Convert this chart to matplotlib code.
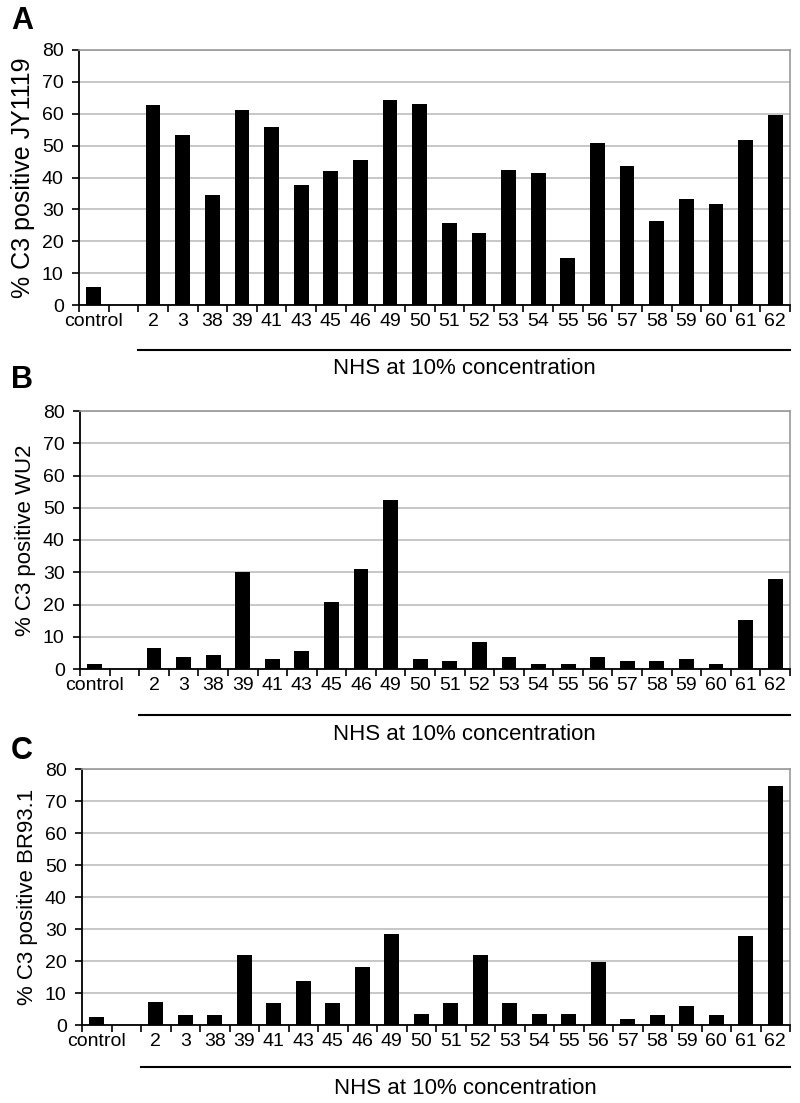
import numpy as np
import matplotlib
matplotlib.use('Agg')
import matplotlib.pyplot as plt
import matplotlib.transforms as mtransforms

plt.rcParams['font.family'] = ['Liberation Sans', 'DejaVu Sans']

nan = np.nan

# x categories: control, one empty slot, then the serum numbers
categories = ['control', '', '2', '3', '38', '39', '41', '43', '45', '46', '49', '50',
              '51', '52', '53', '54', '55', '56', '57', '58', '59', '60', '61', '62']

jy1119 = [5.6, nan, 62.6, 53.3, 34.5, 61.2, 55.8, 37.8, 41.9, 45.4, 64.3, 63.2,
          25.7, 22.5, 42.5, 41.4, 14.9, 50.8, 43.7, 26.3, 33.4, 31.8, 51.9, 59.5]
wu2 = [1.6, nan, 6.4, 3.7, 4.4, 30.2, 3.1, 5.7, 20.8, 30.9, 52.4, 3.1,
       2.4, 8.4, 3.7, 1.6, 1.6, 3.7, 2.4, 2.4, 3.1, 1.6, 15.3, 28.0]
br931 = [2.4, nan, 7.2, 3.0, 3.0, 21.9, 6.8, 13.9, 6.8, 18.0, 28.5, 3.3,
         6.8, 21.9, 6.8, 3.3, 3.3, 19.8, 1.9, 3.0, 6.0, 3.0, 27.8, 74.6]

panel_letters = ['A', 'B', 'C']
ylabels = ['% C3 positive JY1119', '% C3 positive WU2', '% C3 positive BR93.1']
group_label = 'NHS at 10% concentration'

W, H = 800, 1103
fig = plt.figure(figsize=(W / 100, H / 100), dpi=100)

# pixel layout: left, top, bottom of plot area, underline / label offsets, letter y
layout = [
    dict(left=79, top=50, bottom=305, line=45, text=64, letter=21, ylsize=18),
    dict(left=80, top=411, bottom=669, line=46, text=65, letter=380, ylsize=16),
    dict(left=82, top=769, bottom=1025, line=42, text=63, letter=751, ylsize=16),
]
right = 790

x = np.arange(len(categories))

for vals, lab, letter, lay in zip([jy1119, wu2, br931], ylabels, panel_letters, layout):
    ax = fig.add_axes([lay['left'] / W, 1 - lay['bottom'] / H,
                       (right - lay['left']) / W, (lay['bottom'] - lay['top']) / H])
    ax.bar(x, vals, width=0.5, color='black', zorder=3)

    ax.set_xlim(-0.5, len(categories) - 0.5)
    ax.set_ylim(0, 80)
    ax.set_yticks(range(0, 81, 10))
    ax.yaxis.grid(True, color='#bdbdbd', linewidth=1.2, zorder=0)

    # labels at bar centres, tick marks at slot boundaries
    ax.set_xticks(x)
    ax.set_xticklabels(categories, fontsize=14)
    ax.tick_params(axis='x', which='major', length=0, pad=6)
    ax.set_xticks(np.arange(-0.5, len(categories)), minor=True)
    ax.tick_params(axis='x', which='minor', length=5, width=1.2, direction='out')
    ax.tick_params(axis='y', length=5, width=1.2, labelsize=14, pad=6)

    for s in ['left', 'bottom']:
        ax.spines[s].set_color('black')
        ax.spines[s].set_linewidth(1.3)
    for s in ['top', 'right']:
        ax.spines[s].set_color('#999999')
        ax.spines[s].set_linewidth(1.2)

    ax.set_ylabel(lab, fontsize=lay['ylsize'], labelpad=5)

    # underline grouping the serum samples
    tr_line = mtransforms.offset_copy(ax.get_xaxis_transform(), fig=fig,
                                      y=-lay['line'], units='dots')
    ax.plot([1.5, len(categories) - 0.5], [0, 0], color='black', linewidth=1.5,
            transform=tr_line, clip_on=False)
    tr_text = mtransforms.offset_copy(ax.get_xaxis_transform(), fig=fig,
                                      y=-lay['text'], units='dots')
    ax.text((1.5 + len(categories) - 0.5) / 2, 0, group_label, fontsize=16,
            ha='center', va='center', transform=tr_text)

    fig.text(22 / W, 1 - lay['letter'] / H, letter, fontsize=22, fontweight='bold',
             ha='center', va='center')

fig.savefig('out.png', dpi=100)
